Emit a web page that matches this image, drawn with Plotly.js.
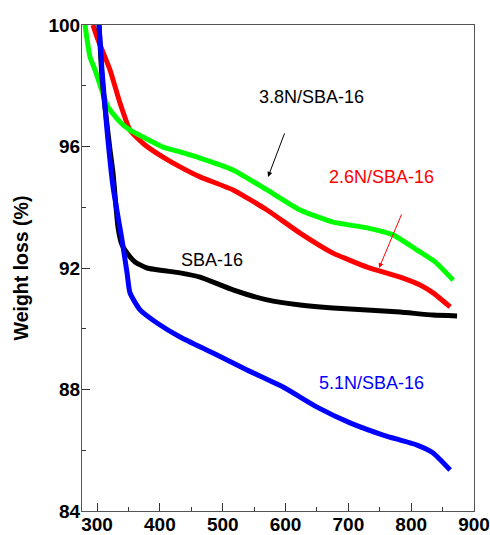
<!DOCTYPE html>
<html>
<head>
<meta charset="utf-8">
<script src="https://cdn.plot.ly/plotly-3.0.1.min.js"></script>
<style>html,body{margin:0;padding:0;background:#fff;}#chart{width:490px;height:535px;}</style>
</head>
<body>
<div id="chart"></div>
<script>
// Temperature (°C) and weight (%)
const sbaT   = [303.1, 307.8, 312.6, 320.6, 325.4, 333.3, 339.7, 347.7, 360.4, 379.5, 432.1, 463.9, 516.4, 570.6, 623.1, 675.7, 729.8, 782.4, 834.9, 873.1];
const sbaW   = [100.0, 98.29, 97.30, 95.88, 95.13, 93.35, 92.76, 92.49, 92.20, 92.00, 91.84, 91.70, 91.28, 90.95, 90.78, 90.68, 90.62, 90.55, 90.45, 90.42];

const n26T   = [293.5, 299.9, 320.6, 336.5, 352.4, 376.3, 405.0, 432.1, 463.9, 516.4, 570.6, 623.1, 675.7, 729.8, 782.4, 814.2, 834.9, 862.0];
const n26W   = [100.0, 99.60, 98.52, 97.43, 96.54, 96.05, 95.65, 95.33, 95.00, 94.57, 93.91, 93.15, 92.49, 92.03, 91.70, 91.44, 91.18, 90.72];

const n38T   = [280.8, 288.7, 296.7, 317.4, 336.5, 352.4, 376.3, 405.0, 432.1, 463.9, 516.4, 570.6, 623.1, 675.7, 729.8, 771.2, 809.4, 838.1, 866.8];
const n38W   = [100.0, 98.95, 98.52, 97.30, 96.81, 96.54, 96.28, 95.98, 95.82, 95.62, 95.23, 94.57, 93.91, 93.51, 93.32, 93.09, 92.59, 92.20, 91.60];

const n51T   = [303.1, 307.8, 315.8, 325.4, 339.7, 347.7, 352.4, 368.4, 395.4, 432.1, 484.6, 538.7, 596.1, 650.2, 702.7, 755.3, 809.4, 834.9, 862.0];
const n51W   = [100.0, 98.52, 96.54, 94.67, 92.92, 91.84, 91.18, 90.62, 90.19, 89.73, 89.20, 88.64, 88.08, 87.42, 86.90, 86.50, 86.17, 85.91, 85.35];

const seriesNames = ['2.6N/SBA-16', '3.8N/SBA-16', 'SBA-16', '5.1N/SBA-16'];
const xTicks = [300, 400, 500, 600, 700, 800, 900];
const yTicks = [84, 88, 92, 96, 100];

const lw = 5;
const ln = (c) => ({color: c, width: lw, shape: 'spline', smoothing: 0.5});
const traces = [
  {x: n26T, y: n26W, name: seriesNames[0], mode: 'lines', line: ln('#ff0000')},
  {x: n38T, y: n38W, name: seriesNames[1], mode: 'lines', line: ln('#00ff00')},
  {x: sbaT, y: sbaW, name: seriesNames[2], mode: 'lines', line: ln('#000000')},
  {x: n51T, y: n51W, name: seriesNames[3], mode: 'lines', line: ln('#0000ff')}
];

const labFont = {family: 'Arial, "Liberation Sans", sans-serif', size: 18};
const tickFont = {size: 19, family: 'Arial, "Liberation Sans", sans-serif', weight: 'bold', color: '#000'};
const layout = {
  width: 490, height: 535,
  margin: {l: 82, r: 16, t: 25, b: 24, pad: 0},
  paper_bgcolor: '#fff', plot_bgcolor: '#fff',
  showlegend: false,
  font: {family: 'Arial, "Liberation Sans", sans-serif', color: '#000'},
  xaxis: {
    range: [276, 900], tickvals: xTicks, ticktext: xTicks.map(String),
    ticks: 'inside', ticklen: 8, tickwidth: 1, tickcolor: '#333',
    minor: {dtick: 50, tick0: 0, ticks: 'inside', ticklen: 4, tickcolor: '#333'},
    showline: true, mirror: true, linecolor: '#555', linewidth: 1,
    showgrid: false, zeroline: false, automargin: false,
    ticklabelstandoff: -4,
    tickfont: tickFont
  },
  yaxis: {
    range: [84, 100], tickvals: yTicks, ticktext: yTicks.map(String),
    ticks: 'inside', ticklen: 8, tickwidth: 1, tickcolor: '#333',
    minor: {dtick: 2, tick0: 0, ticks: 'inside', ticklen: 4, tickcolor: '#333'},
    showline: true, mirror: true, linecolor: '#555', linewidth: 1,
    showgrid: false, zeroline: false, automargin: false,
    ticklabelstandoff: -3,
    tickfont: tickFont,
    title: {text: 'Weight loss (%)', standoff: 14, font: {size: 19.5, family: 'Arial, "Liberation Sans", sans-serif', weight: 'bold', color: '#000'}}
  },
  annotations: [
    {x: 640.6, y: 97.63, xref: 'x', yref: 'y', text: seriesNames[1], showarrow: false, font: Object.assign({}, labFont, {color: '#000'})},
    {x: 752.1, y: 95.0, xref: 'x', yref: 'y', text: seriesNames[0], showarrow: false, font: Object.assign({}, labFont, {color: '#ff0000'})},
    {x: 483, y: 92.26, xref: 'x', yref: 'y', text: seriesNames[2], showarrow: false, font: Object.assign({}, labFont, {color: '#000'})},
    {x: 736.2, y: 88.21, xref: 'x', yref: 'y', text: seriesNames[3], showarrow: false, font: Object.assign({}, labFont, {color: '#0000ff'})},
    {x: 572.2, y: 95.0, ax: 599.3, ay: 96.48, xref: 'x', yref: 'y', axref: 'x', ayref: 'y', text: '', showarrow: true, arrowhead: 2, arrowsize: 1, arrowwidth: 1, arrowcolor: '#000'},
    {x: 748.9, y: 92.0, ax: 785.6, ay: 93.81, xref: 'x', yref: 'y', axref: 'x', ayref: 'y', text: '', showarrow: true, arrowhead: 2, arrowsize: 1, arrowwidth: 1, arrowcolor: '#ff0000'}
  ]
};

Plotly.newPlot('chart', traces, layout, {displayModeBar: false, staticPlot: true});
</script>
</body>
</html>
